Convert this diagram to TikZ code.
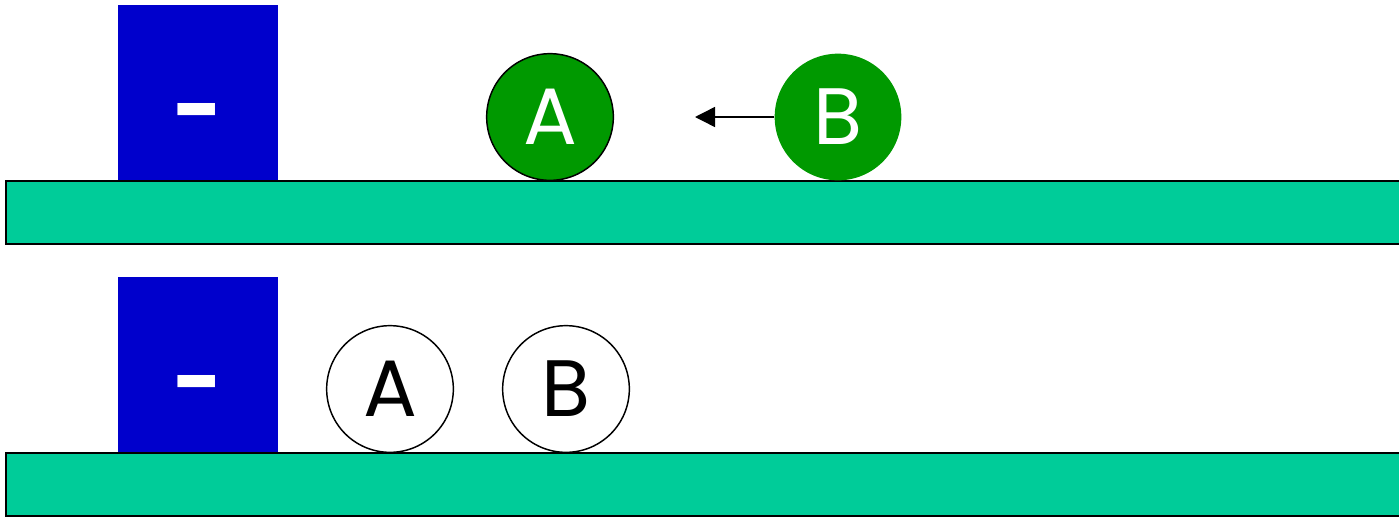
\documentclass[tikz,border=0pt]{standalone}
\usepackage{fontspec}
\setsansfont{Poppins}
\usetikzlibrary{arrows.meta}
\definecolor{floorgreen}{HTML}{00CC99}
\definecolor{wallblue}{HTML}{0000CC}
\definecolor{ballgreen}{HTML}{009900}
\tikzstyle{ball} = [circle, minimum size=95pt, inner sep=0pt, font=\sffamily\fontsize{60}{60}\selectfont]
\tikzstyle{wall} = [rectangle, fill=wallblue, minimum width=120pt, minimum height=132pt, inner sep=0pt]
\tikzstyle{minus} = [text=white, inner sep=0pt, anchor=base, font=\sffamily\bfseries\fontsize{64}{64}\selectfont]
\tikzstyle{floor} = [fill=floorgreen, draw=black, line width=1.1pt]

\begin{document}
\begin{tikzpicture}[x=0.75pt, y=-0.75pt]
	\useasboundingbox (0,0) rectangle (1399,518);
	% before
	\node [wall] (wallT) at (198,93) {};
	\node [minus] (minusT) at (198,139.5) {-};
	\draw [floor] (6,181) rectangle (1402,244);
	\node [ball, fill=ballgreen, draw=black, line width=1.1pt, text=white] (aT) at (550,117) {A};
	\node [ball, fill=ballgreen, text=white] (bT) at (838,117) {B};
	\coordinate (goT) at (695,117);
	\draw [-{Triangle[length=15pt, width=15pt]}, line width=1.1pt] (bT) -- (goT);
	% after
	\node [wall] (wallB) at (198,365) {};
	\node [minus] (minusB) at (198,411.5) {-};
	\draw [floor] (6,453) rectangle (1402,516);
	\node [ball, fill=white, draw=black, line width=1.1pt] (aB) at (390,389) {A};
	\node [ball, fill=white, draw=black, line width=1.1pt] (bB) at (566,389) {B};
\end{tikzpicture}
\end{document}
